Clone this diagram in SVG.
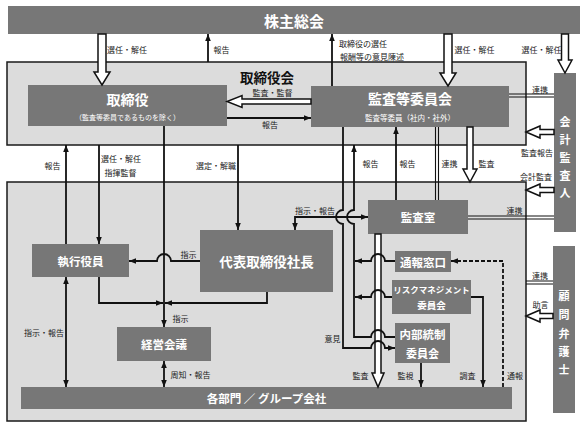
<svg xmlns="http://www.w3.org/2000/svg" width="587" height="427" viewBox="0 0 587 427">
<style>
.bg{fill:#dcdcdc;stroke:#1a1a1a;stroke-width:1.5}
.nd{fill:#777}
.t{font-family:"Noto Sans CJK JP","Noto Sans",sans-serif;fill:#fff;font-weight:bold;text-anchor:middle;dominant-baseline:central}
.s{font-family:"Noto Sans CJK JP","Noto Sans",sans-serif;fill:#fff;text-anchor:middle;dominant-baseline:central;font-size:7px}
.l{font-family:"Noto Sans CJK JP","Noto Sans",sans-serif;fill:#222;font-size:8px;text-anchor:middle;dominant-baseline:central}
.c{fill:none;stroke:#111;stroke-width:1.8}
.a{marker-end:url(#ah)}
.b{marker-start:url(#ah);marker-end:url(#ah)}
.d{fill:none;stroke:#111;stroke-width:1.1}
.h{fill:#fff;stroke:#111;stroke-width:1.5}
</style>
<defs>
<marker id="ah" viewBox="0 0 10 10" refX="10" refY="5" markerWidth="7" markerHeight="7" markerUnits="userSpaceOnUse" orient="auto-start-reverse"><path d="M0,1 L10,5 L0,9 z" fill="#111"/></marker>
</defs>

<rect class="bg" x="7" y="62" width="519" height="83"/>
<rect class="bg" x="7" y="182" width="519" height="239"/>
<text class="l" x="267" y="77" style="font-size:13.5px;font-weight:bold;fill:#111">取締役会</text>

<g id="kabunushi"><rect class="nd" x="8" y="6" width="572" height="28"/><text class="t" x="294" y="20" font-size="15">株主総会</text></g>
<g id="torishimariyaku"><rect class="nd" x="28" y="85" width="199" height="41"/><text class="t" x="127.5" y="99" font-size="14">取締役</text><text class="s" x="127.5" y="117">（監査等委員であるものを除く）</text></g>
<g id="kansa-iinkai"><rect class="nd" x="311" y="86" width="198" height="41"/><text class="t" x="410" y="98" font-size="14">監査等委員会</text><text class="s" x="410" y="117" style="font-size:7.5px">監査等委員（社内・社外）</text></g>
<g id="kaikei"><rect class="nd" x="554" y="73" width="22" height="159"/><g class="t" font-size="11"><text x="565" y="121">会</text><text x="565" y="139">計</text><text x="565" y="157">監</text><text x="565" y="175">査</text><text x="565" y="192">人</text></g></g>
<g id="komon"><rect class="nd" x="553" y="246" width="22" height="167"/><g class="t" font-size="11"><text x="564" y="295">顧</text><text x="564" y="314">問</text><text x="564" y="333">弁</text><text x="564" y="351">護</text><text x="564" y="369">士</text></g></g>
<g id="shikko"><rect class="nd" x="32" y="244" width="97" height="33"/><text class="t" x="80.5" y="260.5" font-size="11.5">執行役員</text></g>
<g id="shacho"><rect class="nd" x="200" y="230" width="133" height="62"/><text class="t" x="266.5" y="261" font-size="13.5">代表取締役社長</text></g>
<g id="keiei"><rect class="nd" x="117" y="327" width="94" height="34"/><text class="t" x="164" y="344" font-size="11.5">経営会議</text></g>
<g id="kakubumon"><rect class="nd" x="21" y="387" width="491" height="22"/><text class="t" x="266.5" y="398" font-size="11.5">各部門 ／ グループ会社</text></g>
<g id="kansashitsu"><rect class="nd" x="368" y="200" width="100" height="34"/><text class="t" x="418" y="217" font-size="11.5">監査室</text></g>
<g id="tsuho"><rect class="nd" x="395" y="251" width="56" height="21"/><text class="t" x="423" y="261.5" font-size="11.5">通報窓口</text></g>
<g id="risk"><rect class="nd" x="392" y="280" width="79" height="34"/><text class="t" x="431.5" y="289" font-size="8.5">リスクマネジメント</text><text class="t" x="431.5" y="305" font-size="9.5">委員会</text></g>
<g id="naibu"><rect class="nd" x="395" y="323" width="55" height="40"/><text class="t" x="422.5" y="334" font-size="11.5">内部統制</text><text class="t" x="422.5" y="353" font-size="11">委員会</text></g>

<g id="connectors">
<polygon class="h" points="98,34 106,34 106,72 110,72 102,85 94,72 98,72"/>
<polygon class="h" points="444,34 452,34 452,73 456,73 448,86 440,73 444,73"/>
<polygon class="h" points="561.5,34 568.5,34 568.5,60 572,60 565,73 558,60 561.5,60"/>
<polygon class="h" points="467,127 473,127 473,169 477,169 470,182 463,169 467,169"/>
<polygon class="h" points="375,234 381,234 381,373 384,373 378,387 372,373 375,373"/>
<polygon class="h" points="311,99 242,99 242,95.5 227,101.5 242,107.5 242,104 311,104"/>
<polygon class="h" points="554,129.5 540,129.5 540,126 526,132 540,138 540,134.5 554,134.5"/>
<polygon class="h" points="554,187.5 540,187.5 540,184 526,190 540,196 540,192.5 554,192.5"/>
<polygon class="h" points="553,313.5 540,313.5 540,310 526,316 540,322 540,318.5 553,318.5"/>

<path class="c a" d="M208,62 V34"/>
<path class="c a" d="M332,86 V34"/>
<path class="c a" d="M227,118 H311"/>
<path class="c a" d="M66,244 V145"/>
<path class="c a" d="M99,145 V244"/>
<path class="c a" d="M238,145 V230"/>
<path class="c a" d="M164,126 V327"/>
<path class="c a" d="M200,261 H171 A7,7 0 0 0 157,261 H129"/>
<path class="c a" d="M99,277 V303 H163"/>
<path class="c a" d="M267,292 V303 H165"/>
<path class="c b" d="M66,277 V387"/>
<path class="c b" d="M164,361 V387"/>
<path class="c a" d="M343,127 V210 A7,7 0 0 0 343,224 V348 H371 A7,7 0 0 1 385,348 H395"/>
<path class="c a" d="M395,337 H385 A7,7 0 0 0 371,337 H354 V224 A7,7 0 0 1 354,210 V145"/>
<path class="c a" d="M396,200 V127"/>
<path class="c b" d="M368,217 H295 V230"/>
<path class="c a" d="M395,261 H385 A7,7 0 0 0 371,261 H355"/>
<path class="c a" d="M392,297 H385 A7,7 0 0 0 371,297 H355"/>
<path class="c a" d="M421,363 V387"/>
<path class="c a" d="M471,297 H483 V387"/>
<path class="c a" d="M503,387 V261 H451" stroke-dasharray="4 2"/>
<path class="d" d="M509,94 H554 M509,97 H554"/>
<path class="d" d="M435.5,127 V200 M438.5,127 V200"/>
<path class="d" d="M468,216 H554 M468,219 H554"/>
<path class="d" d="M526,281 H553 M526,284 H553"/>
</g>

<g id="labels">
<text class="l" x="127" y="49">選任・解任</text>
<text class="l" x="221.5" y="49">報告</text>
<text class="l" x="339" y="43" style="text-anchor:start">取締役の選任</text>
<text class="l" x="340" y="56" style="text-anchor:start">報酬等の意見陳述</text>
<text class="l" x="474.5" y="49">選任・解任</text>
<text class="l" x="541.5" y="49">選任・解任</text>
<text class="l" x="272.5" y="92">監査・監督</text>
<text class="l" x="270" y="124">報告</text>
<text class="l" x="540" y="89">連携</text>
<text class="l" x="537" y="152">監査報告</text>
<text class="l" x="536" y="176">会計監査</text>
<text class="l" x="52.5" y="165">報告</text>
<text class="l" x="121" y="158">選任・解任</text>
<text class="l" x="120.5" y="172">指揮監督</text>
<text class="l" x="216" y="165">選定・解職</text>
<text class="l" x="370.5" y="163">報告</text>
<text class="l" x="407.5" y="163">報告</text>
<text class="l" x="449.5" y="163">連携</text>
<text class="l" x="486.5" y="163">監査</text>
<text class="l" x="315" y="210">指示・報告</text>
<text class="l" x="514.5" y="210">連携</text>
<text class="l" x="188.5" y="254">指示</text>
<text class="l" x="540" y="275">連携</text>
<text class="l" x="540.5" y="304">助言</text>
<text class="l" x="180.5" y="318">指示</text>
<text class="l" x="44" y="332">指示・報告</text>
<text class="l" x="332.5" y="338">意見</text>
<text class="l" x="190.5" y="374">周知・報告</text>
<text class="l" x="360.5" y="375">監査</text>
<text class="l" x="405.5" y="375">監視</text>
<text class="l" x="467.5" y="375">調査</text>
<text class="l" x="515" y="375">通報</text>
</g>
</svg>
